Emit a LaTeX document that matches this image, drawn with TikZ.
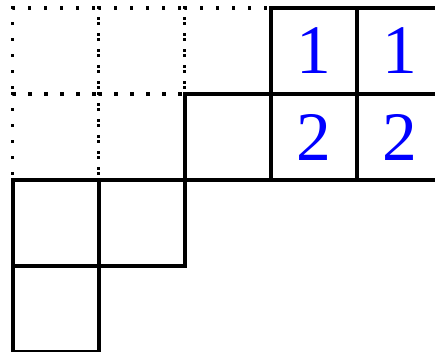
\documentclass[tikz,border=0pt]{standalone}
\usepackage{fontspec}
\setmainfont{Liberation Serif}
\usetikzlibrary{positioning}

\begin{document}
\begin{tikzpicture}[x=1cm, y=1cm,
  cell/.style={draw, line width=1.1pt, minimum size=1cm, inner sep=0pt, outer sep=0pt},
  dotcell/.style={cell, line width=1pt, dash pattern=on 0.9pt off 4.4pt},
  entry/.style={text=blue, font=\fontsize{23}{23}\selectfont}]
\useasboundingbox (-0.151,0.093) rectangle (4.907,-4.0);
% skew part
\node[dotcell] (s00) at (0.5,-0.5) {};
\node[dotcell, right=0pt of s00] (s01) {};
\node[dotcell, right=0pt of s01] (s02) {};
\node[dotcell, below=0pt of s00] (s10) {};
\node[dotcell, right=0pt of s10] (s11) {};
% outer shape
\node[cell, entry, right=0pt of s02] (c03) {1};
\node[cell, entry, right=0pt of c03] (c04) {1};
\node[cell, right=0pt of s11] (c12) {};
\node[cell, entry, right=0pt of c12] (c13) {2};
\node[cell, entry, right=0pt of c13] (c14) {2};
\node[cell, below=0pt of s10] (c20) {};
\node[cell, right=0pt of c20] (c21) {};
\node[cell, below=0pt of c20] (c30) {};
\end{tikzpicture}
\end{document}
